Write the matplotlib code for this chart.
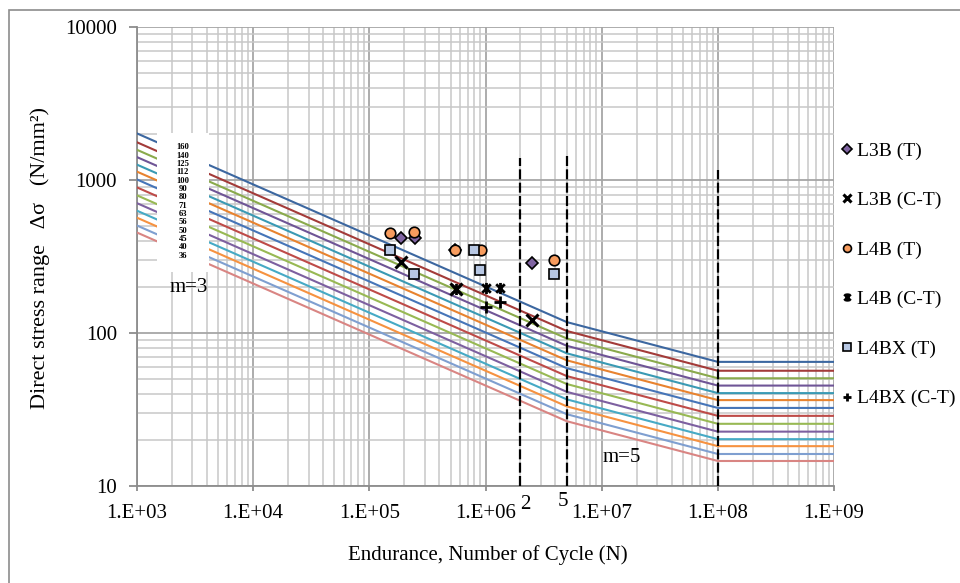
import matplotlib
matplotlib.use("Agg")
import matplotlib.pyplot as plt
from matplotlib.patches import Rectangle
from matplotlib.path import Path
from matplotlib.ticker import LogLocator, FixedLocator, FixedFormatter, NullFormatter
import numpy as np

plt.rcParams['font.family'] = ['Liberation Serif', 'DejaVu Serif']

# detail categories (stress range at 2e6 cycles)
categories = [160, 140, 125, 112, 100, 90, 80, 71, 63, 56, 50, 45, 40, 36]
curve_colors = ['#3C67A0', '#A33B39', '#8AAA4C', '#6F5596', '#3A9AB4', '#E8832F',
                '#4675B8', '#BE4B48', '#98B954', '#7D60A0', '#46AAC5', '#F69240',
                '#7F9FD0', '#D98583']
# endurance break points: start, knee (m=3 -> m=5), cut-off, end
knee_N = [1e3, 5e6, 1e8, 1e9]
slopes = [3, 5]

# test results
l3b_t_N = [1.87e5, 2.47e5, 5.5e5, 2.5e6]
l3b_t_S = [416, 416, 350, 288]
l3b_ct_N = [1.87e5, 5.6e5, 2.5e6]
l3b_ct_S = [292, 195, 122]
l4b_t_N = [1.51e5, 2.44e5, 5.5e5, 9.1e5, 3.9e6]
l4b_t_S = [453, 457, 350, 350, 300]
l4b_ct_N = [5.6e5, 1.0e6, 1.33e6]
l4b_ct_S = [195, 196, 196]
l4bx_t_N = [1.51e5, 2.42e5, 7.9e5, 9.0e5, 3.9e6]
l4bx_t_S = [349, 242, 349, 258, 242]
l4bx_ct_N = [1.0e6, 1.34e6]
l4bx_ct_S = [147, 160]

x_ticks = [1e3, 1e4, 1e5, 1e6, 1e7, 1e8, 1e9]
x_labels = ['1.E+03', '1.E+04', '1.E+05', '1.E+06', '1.E+07', '1.E+08', '1.E+09']
y_ticks = [10, 100, 1000, 10000]
y_labels = ['10', '100', '1000', '10000']

# star marker: an x crossed by a vertical bar
star = Path([(-1, -1), (1, 1), (-1, 1), (1, -1), (0, -1.3), (0, 1.3)],
            [Path.MOVETO, Path.LINETO, Path.MOVETO, Path.LINETO, Path.MOVETO, Path.LINETO])

fig = plt.figure(figsize=(9.6, 5.83), dpi=100)
ax = fig.add_axes([137 / 960, 1 - 486 / 583, 697 / 960, 459 / 583])

# S-N curves: slope m=3 up to 5e6, m=5 up to 1e8, then constant
for cat, col in zip(categories, curve_colors):
    s_knee = cat * (2e6 / knee_N[1]) ** (1 / slopes[0])
    s_start = cat * (2e6 / knee_N[0]) ** (1 / slopes[0])
    s_cut = s_knee * (knee_N[1] / knee_N[2]) ** (1 / slopes[1])
    ax.plot(knee_N, [s_start, s_knee, s_cut, s_cut], color=col, lw=1.5, zorder=3)

# label box over the left end of the curves
ax.add_patch(Rectangle((20 / 697, (486 - 272) / 459), 52 / 697, 139 / 459,
                       transform=ax.transAxes, facecolor='white', edgecolor='none', zorder=4))
for i, cat in enumerate(categories):
    ax.text(46 / 697, (486 - 147.3 - i * 8.34) / 459, str(cat), transform=ax.transAxes,
            fontsize=6.2, fontweight='bold', ha='center', va='center', zorder=5)

# limits marking 2e6, 5e6 and 1e8 cycles
for n, top in zip([2e6, 5e6, 1e8], [1393, 1436, 1161]):
    ax.plot([n, n], [10, top], color='black', lw=1.6, ls=(0, (4.5, 1.5)), zorder=4)

ax.plot(l3b_t_N, l3b_t_S, ls='none', marker='D', ms=6.2, mfc='#8064A2', mec='black',
        mew=1.2, label='L3B (T)', zorder=6)
ax.plot(l3b_ct_N, l3b_ct_S, ls='none', marker='x', ms=8, mec='black', mew=2.2,
        label='L3B (C-T)', zorder=6)
ax.plot(l4b_t_N, l4b_t_S, ls='none', marker='o', ms=7.6, mfc='#F79C5E', mec='black',
        mew=1.2, label='L4B (T)', zorder=6)
ax.plot(l4b_ct_N, l4b_ct_S, ls='none', marker=star, ms=8, mec='black', mew=2.0,
        label='L4B (C-T)', zorder=6)
ax.plot(l4bx_t_N, l4bx_t_S, ls='none', marker='s', ms=7.6, mfc='#B7C7E3', mec='black',
        mew=1.2, label='L4BX (T)', zorder=6)
ax.plot(l4bx_ct_N, l4bx_ct_S, ls='none', marker='+', ms=8, mec='black', mew=2,
        label='L4BX (C-T)', zorder=6)

ax.set_xscale('log')
ax.set_yscale('log')
ax.set_xlim(1e3, 1e9)
ax.set_ylim(10, 10000)
ax.xaxis.set_major_locator(FixedLocator(x_ticks))
ax.xaxis.set_major_formatter(FixedFormatter(x_labels))
ax.yaxis.set_major_locator(FixedLocator(y_ticks))
ax.yaxis.set_major_formatter(FixedFormatter(y_labels))
ax.xaxis.set_minor_locator(LogLocator(base=10, subs=np.arange(2, 10), numticks=20))
ax.yaxis.set_minor_locator(LogLocator(base=10, subs=np.arange(2, 10), numticks=20))
ax.xaxis.set_minor_formatter(NullFormatter())
ax.yaxis.set_minor_formatter(NullFormatter())

ax.grid(True, which='major', color='#A6A6A6', lw=1.3, zorder=0)
ax.grid(True, which='minor', color='#C8C8C8', lw=1.1, zorder=0)
ax.set_axisbelow(True)
for side in ['top', 'right']:
    ax.spines[side].set_visible(False)
for side in ['left', 'bottom']:
    ax.spines[side].set_color('#8C8C8C')
    ax.spines[side].set_linewidth(1.3)
ax.tick_params(which='major', width=1.3, color='#8C8C8C', labelsize=15)
ax.tick_params(which='minor', length=0)
ax.tick_params(axis='x', which='major', length=3.5, pad=9.5)
ax.tick_params(axis='y', which='major', length=6, pad=8.4)

fig.text(40 / 960, 1 - 258 / 583, 'Direct stress range   Δσ   (N/mm²)', fontsize=16,
         rotation=90, ha='center', va='center')
fig.text(488 / 960, 1 - 555 / 583, 'Endurance, Number of Cycle (N)', fontsize=15,
         ha='center', va='center')

ax.annotate('2', xy=(2.19e6, 0), xycoords=('data', 'axes fraction'), xytext=(0, -13),
            textcoords='offset points', fontsize=15, ha='center', va='center')
ax.annotate('5', xy=(4.64e6, 0), xycoords=('data', 'axes fraction'), xytext=(0, -11.5),
            textcoords='offset points', fontsize=15, ha='center', va='center')
ax.text(52 / 697, (486 - 287) / 459, 'm=3', transform=ax.transAxes, fontsize=15,
        ha='center', va='center', zorder=5)
ax.text(485 / 697, 28 / 459, 'm=5', transform=ax.transAxes, fontsize=15,
        ha='center', va='center', zorder=5)

fig.legend(loc='upper left', bbox_to_anchor=(841 / 960, 1 - 142 / 583), frameon=False,
           fontsize=14, handlelength=0.6, handletextpad=0.2, labelspacing=1.64,
           borderaxespad=0, borderpad=0, markerscale=0.75)

# outer chart border
fig.patches.append(Rectangle((9 / 960, -0.1), 1.2, 1 - 10 / 583 + 0.1, transform=fig.transFigure,
                             facecolor='none', edgecolor='#8C8C8C', lw=1.2, zorder=0))

fig.savefig('out.png', dpi=100)
